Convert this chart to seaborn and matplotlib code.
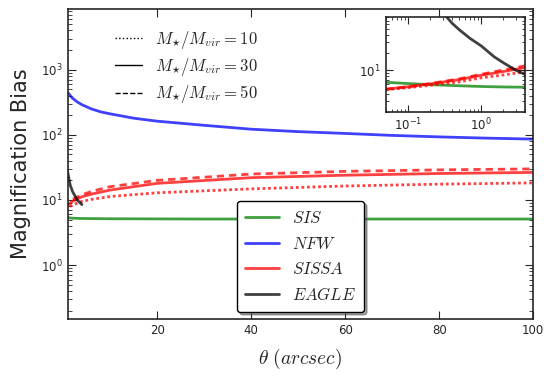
import numpy as np
import matplotlib
matplotlib.use('Agg')
import matplotlib.pyplot as plt
from matplotlib.lines import Line2D
import seaborn as sns

# angular separation (arcsec)
theta_sis = [0.05, 0.1, 0.2, 0.5, 1, 2, 4, 10, 30, 60, 100]
bias_sis = [6.3, 6.0, 5.75, 5.5, 5.35, 5.25, 5.2, 5.15, 5.1, 5.1, 5.1]

theta_nfw = [1, 1.5, 2, 3, 4, 6, 8, 10, 15, 20, 30, 40, 50, 60, 70, 80, 90, 100]
bias_nfw = [446, 400, 365, 320, 290, 250, 225, 210, 180, 162, 140, 122, 112, 105, 98, 93, 89, 86]

theta_sissa = [0.05, 0.1, 0.2, 0.5, 1, 2, 4, 6, 10, 20, 40, 60, 80, 100]
bias_sissa_10 = [4.7, 5.1, 5.6, 6.4, 7.5, 8.4, 9.5, 10.2, 11.3, 12.9, 14.8, 16.4, 17.5, 18.3]
bias_sissa_30 = [4.8, 5.3, 5.9, 7.0, 8.3, 9.6, 11.2, 12.3, 14.2, 18.0, 22.0, 24.0, 25.5, 26.5]
bias_sissa_50 = [4.8, 5.3, 6.0, 7.2, 8.6, 10.2, 12.0, 13.5, 16.0, 20.0, 25.0, 27.5, 29.0, 30.0]

theta_eagle = [0.3, 0.4, 0.5, 0.7, 1.0, 1.5, 2.0, 3.0, 4.0]
bias_eagle = [95, 63, 49, 35, 26, 17, 13.5, 10, 8.5]

ratio_labels = [r'$M_{\star}/M_{vir}=10$', r'$M_{\star}/M_{vir}=30$', r'$M_{\star}/M_{vir}=50$']
model_labels = [r'$SIS$', r'$NFW$', r'$SISSA$', r'$EAGLE$']

sns.set_style('ticks')
plt.rcParams['font.family'] = ['DejaVu Sans']
plt.rcParams['mathtext.fontset'] = 'cm'

c_sis, c_nfw, c_sissa, c_eagle = 'green', 'blue', 'red', 'black'
dotted = (0, (1, 1))
dashed = (0, (2.6, 1.8))
lw = 2
al = 0.75


def draw(ax):
    sns.lineplot(x=theta_sis, y=bias_sis, ax=ax, color=c_sis, lw=lw, alpha=al)
    sns.lineplot(x=theta_nfw, y=bias_nfw, ax=ax, color=c_nfw, lw=lw, alpha=al)
    sns.lineplot(x=theta_sissa, y=bias_sissa_10, ax=ax, color=c_sissa, lw=lw, alpha=al, linestyle=dotted)
    sns.lineplot(x=theta_sissa, y=bias_sissa_30, ax=ax, color=c_sissa, lw=lw, alpha=al)
    sns.lineplot(x=theta_sissa, y=bias_sissa_50, ax=ax, color=c_sissa, lw=lw, alpha=al, linestyle=dashed)
    sns.lineplot(x=theta_eagle, y=bias_eagle, ax=ax, color=c_eagle, lw=lw, alpha=al)


fig = plt.figure(figsize=(5.56, 3.80), dpi=100)
ax = fig.add_axes([0.122, 0.161, 0.837, 0.815])
draw(ax)
ax.set_yscale('log')
ax.set_xlim(1, 100)
ax.set_ylim(0.15, 8500)
ax.set_xticks([20, 40, 60, 80, 100])
ax.tick_params(which='both', direction='in', top=True, right=True, labelsize=8.5)
ax.tick_params(which='major', length=6)
ax.tick_params(which='minor', length=3)
ax.set_xlabel(r'$\theta\ (arcsec)$', fontsize=14, labelpad=7)
ax.set_ylabel('Magnification Bias', fontsize=15)
ax.yaxis.set_label_coords(-0.08, 0.5)
for s in ax.spines.values():
    s.set_linewidth(1.2)

style_handles = [Line2D([], [], color='k', lw=1, linestyle=ls) for ls in [':', '-', '--']]
leg1 = ax.legend(style_handles, ratio_labels, loc='upper left', bbox_to_anchor=(0.07, 0.985),
                 frameon=False, fontsize=12, labelspacing=0.32, handlelength=1.6)
ax.add_artist(leg1)

model_handles = [Line2D([], [], color=c, lw=lw, alpha=al) for c in [c_sis, c_nfw, c_sissa, c_eagle]]
leg2 = ax.legend(model_handles, model_labels, loc='lower center', bbox_to_anchor=(0.5, -0.005),
                 fontsize=12, fancybox=True, shadow=True, framealpha=1, labelspacing=0.45,
                 handlelength=2.0, borderpad=0.5)
leg2.get_frame().set_edgecolor('black')
leg2.get_frame().set_linewidth(1.0)

axin = fig.add_axes([0.694, 0.706, 0.251, 0.249])
draw(axin)
axin.set_xscale('log')
axin.set_yscale('log')
axin.set_xlim(0.05, 4)
axin.set_ylim(2, 80)
axin.tick_params(which='both', direction='in', top=True, right=True, labelsize=8.5)
axin.tick_params(which='major', length=5)
axin.tick_params(which='minor', length=2.5)
for s in axin.spines.values():
    s.set_linewidth(1.2)

fig.savefig('out.png', dpi=100)
